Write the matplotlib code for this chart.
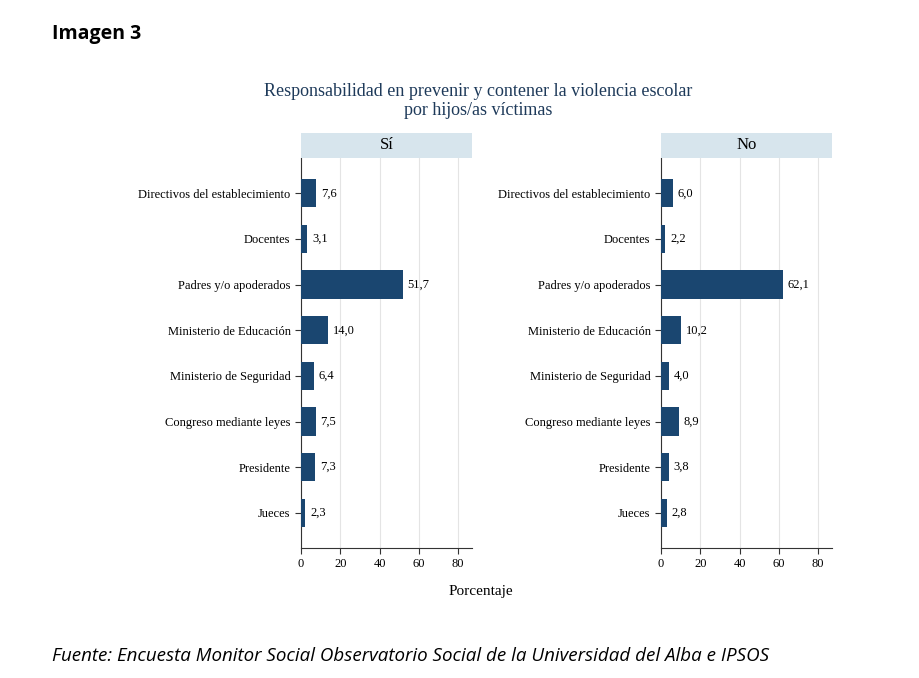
import matplotlib.pyplot as plt

categorias = ["Directivos del establecimiento", "Docentes", "Padres y/o apoderados",
              "Ministerio de Educación", "Ministerio de Seguridad",
              "Congreso mediante leyes", "Presidente", "Jueces"]
valores_si = [7.6, 3.1, 51.7, 14.0, 6.4, 7.5, 7.3, 2.3]
valores_no = [6.0, 2.2, 62.1, 10.2, 4.0, 8.9, 3.8, 2.8]
paneles = ["Sí", "No"]

azul = "#1a4670"
serif = ["Times New Roman", "Liberation Serif", "DejaVu Serif"]

fig = plt.figure(figsize=(9.19, 6.78), dpi=100)
fig.patch.set_facecolor("white")

for x0, titulo, vals in [(0.3275, paneles[0], valores_si), (0.7193, paneles[1], valores_no)]:
    ax = fig.add_axes([x0, 0.1917, 0.186, 0.575])
    pos = list(range(len(categorias)))
    ax.barh(pos, vals, height=0.62, color=azul, zorder=3)
    for p, v in zip(pos, vals):
        ax.text(v + 2.5, p, f"{v:.1f}".replace(".", ","), va="center", ha="left",
                fontsize=9, family=serif)
    ax.set_xlim(0, 87)
    ax.set_ylim(7.77, -0.77)
    ax.set_yticks(pos)
    ax.set_yticklabels(categorias, family=serif, fontsize=9)
    ax.set_xticks([0, 20, 40, 60, 80])
    ax.set_xticklabels(["0", "20", "40", "60", "80"], family=serif, fontsize=9)
    ax.grid(axis="x", color="#e4e4e4", lw=0.8, zorder=0)
    ax.tick_params(axis="y", length=4, color="#333333")
    ax.tick_params(axis="x", length=4, color="#333333")
    for s in ["top", "right"]:
        ax.spines[s].set_visible(False)
    for s in ["left", "bottom"]:
        ax.spines[s].set_color("#333333")
        ax.spines[s].set_linewidth(0.8)
    # cabecera del panel
    hdr = fig.add_axes([x0, 0.767, 0.186, 0.037])
    hdr.set_facecolor("#d7e5ed")
    hdr.set_xticks([]); hdr.set_yticks([])
    for s in hdr.spines.values():
        s.set_visible(False)
    hdr.text(0.5, 0.5, titulo, ha="center", va="center", fontsize=12, family=serif)

fig.text(0.52, 0.858, "Responsabilidad en prevenir y contener la violencia escolar",
         ha="center", fontsize=13, family=serif, color="#1e3a5a")
fig.text(0.52, 0.83, "por hijos/as víctimas", ha="center", fontsize=13, family=serif,
         color="#1e3a5a")
fig.text(0.523, 0.122, "Porcentaje", ha="center", fontsize=11, family=serif)
fig.text(0.057, 0.943, "Imagen 3", fontsize=14, fontweight="bold", family="Open Sans")
fig.text(0.057, 0.025, "Fuente: Encuesta Monitor Social Observatorio Social de la Universidad del Alba e IPSOS",
         fontsize=13.5, style="italic", family="Open Sans")

fig.savefig("out.png", dpi=100)
